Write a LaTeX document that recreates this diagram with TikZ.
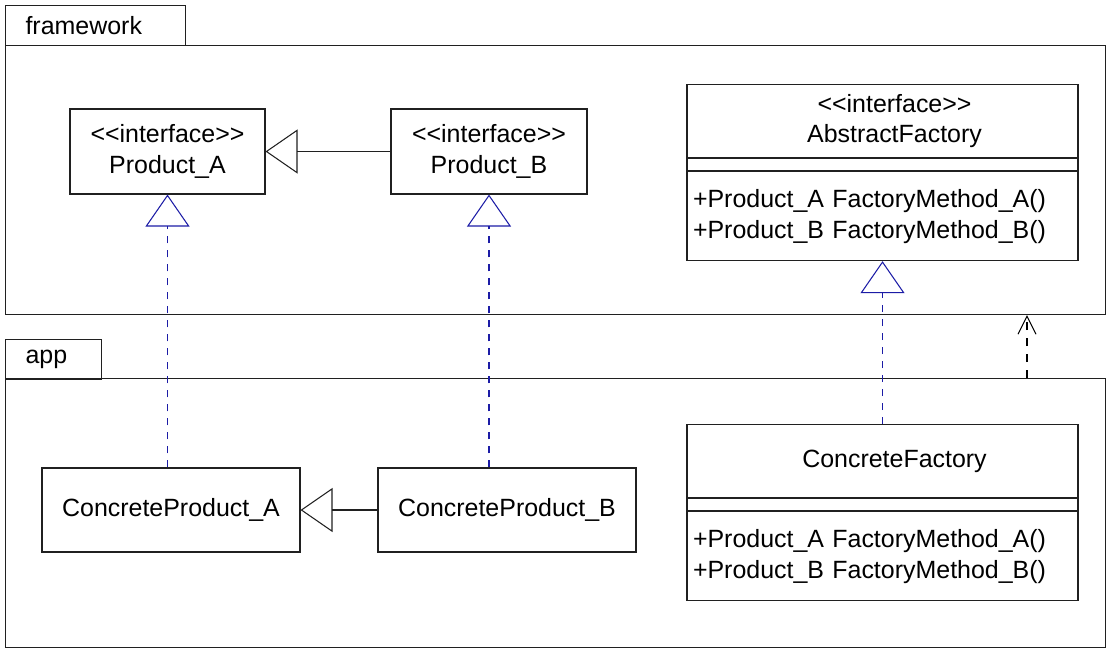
\documentclass[tikz,border=0pt]{standalone}
\usepackage{fontspec}
\setmainfont{Liberation Sans}
\usepackage{tikz}
\usetikzlibrary{arrows.meta,positioning,calc}
\definecolor{realblue}{HTML}{1C1CA6}
\definecolor{linegray}{HTML}{202020}
\newcommand{\stereo}[1]{<\kern0pt<#1>\kern0pt>}

\begin{document}
\begin{tikzpicture}[
  font=\fontsize{14.2}{17.6}\selectfont,
  every node/.style={line width=0.6pt, draw=linegray},
  pkgtab/.style={anchor=north west, inner xsep=0.4cm, inner ysep=0pt, minimum height=0.8cm, align=left},
  pkgframe/.style={anchor=north west, minimum width=22cm, minimum height=5.38cm},
  classbox/.style={minimum height=1.7cm, align=center, fill=white},
  cltop/.style={minimum width=7.82cm, minimum height=1.46cm, align=center, inner sep=0pt},
  clmid/.style={minimum width=7.82cm, minimum height=0.24cm, inner sep=0pt},
  clbot/.style={text width=7.58cm, inner xsep=0.12cm, minimum height=1.78cm, align=left},
  realize/.style={-{Triangle[open,length=0.64cm,width=0.88cm]}, line width=0.6pt, color=realblue, dash pattern=on 0.14cm off 0.14cm},
  inherit/.style={-{Triangle[open,length=0.64cm,width=0.88cm]}, line width=0.6pt, color=linegray},
  depend/.style={-{Straight Barb[length=0.36cm,width=0.36cm]}, line width=0.6pt, color=black, dash pattern=on 0.16cm off 0.16cm}
]
  \useasboundingbox (0,0) rectangle (22.2,-12.98);

  \node[pkgtab, text width=2.8cm] (fwtab) at (0.1,-0.1) {framework};
  \node[pkgframe] (fw) at (0.1,-0.9) {};
  \node[pkgtab, text width=1.12cm] (apptab) at (0.1,-6.78) {app};
  \node[pkgframe] (app) at (0.1,-7.56) {};

  \node[classbox, minimum width=3.9cm] (pa) at (3.35,-3.03) {\stereo{interface}\\Product\_A};
  \node[classbox, minimum width=3.92cm] (pb) at (9.78,-3.03) {\stereo{interface}\\Product\_B};

  \node[cltop, anchor=north] (aftop) at (17.65,-1.68) {\hspace*{0.48cm}\stereo{interface}\\\hspace*{0.48cm}AbstractFactory};
  \node[clmid, below=0pt of aftop] (afmid) {};
  \node[clbot, below=0pt of afmid] (afbot) {+Product\_A FactoryMethod\_A()\\+Product\_B FactoryMethod\_B()};

  \node[classbox, minimum width=5.16cm, minimum height=1.68cm] (cpa) at (3.42,-10.2) {ConcreteProduct\_A};
  \node[classbox, minimum width=5.16cm, minimum height=1.68cm] (cpb) at (10.14,-10.2) {ConcreteProduct\_B};

  \node[cltop, anchor=north] (cftop) at (17.65,-8.48) {\hspace*{0.48cm}ConcreteFactory};
  \node[clmid, below=0pt of cftop] (cfmid) {};
  \node[clbot, below=0pt of cfmid] (cfbot) {+Product\_A FactoryMethod\_A()\\+Product\_B FactoryMethod\_B()};

  \coordinate (dep) at (20.54,0);

  \draw[inherit] (pb.west) -- (pa.east);
  \draw[inherit] (cpb.west) -- (cpa.east);
  \draw[realize] (cpa.north -| pa.south) -- (pa.south);
  \draw[realize] (cpb.north -| pb.south) -- (pb.south);
  \draw[realize] (cftop.north) -- (afbot.south);
  \draw[depend] (app.north -| dep) -- (fw.south -| dep);
\end{tikzpicture}
\end{document}
